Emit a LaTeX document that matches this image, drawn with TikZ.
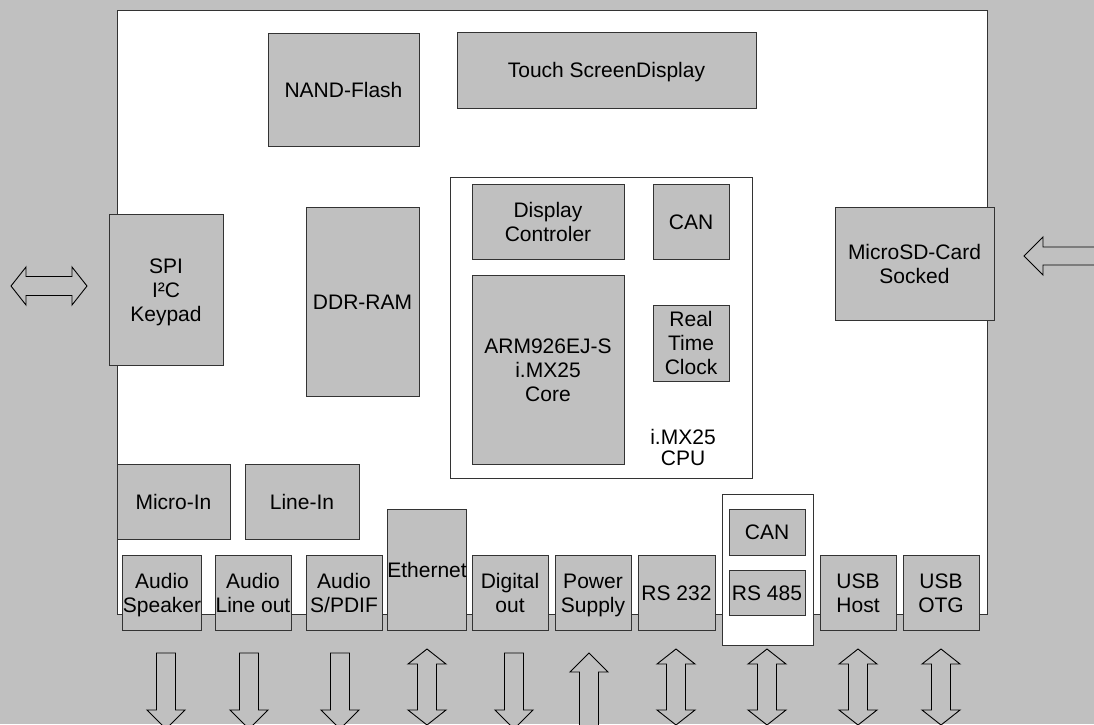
\documentclass[tikz,border=0pt]{standalone}
\usepackage{fontspec}
\setmainfont{Liberation Sans}
\definecolor{bggray}{HTML}{C0C0C0}
\definecolor{edge}{HTML}{333333}
\newcommand\lstrut{\rule[-4.5pt]{0pt}{24pt}}
\newcommand\bx[7][]{\node[box,#1,minimum width={#4-#2},minimum height={#5-#3}] (#6) at ({(#2+#4)/2},{(#3+#5)/2}) {\lstrut#7\lstrut};}
\newcommand\arrdown[1]{\draw[arr] ({#1-9.5},653) -- ({#1+9.5},653) -- ({#1+9.5},710) -- ({#1+19},710) -- (#1,729) -- ({#1-19},710) -- ({#1-9.5},710) -- cycle;}
\newcommand\arrup[1]{\draw[arr] (#1,653) -- ({#1+19},672) -- ({#1+9.5},672) -- ({#1+9.5},740) -- ({#1-9.5},740) -- ({#1-9.5},672) -- ({#1-19},672) -- cycle;}
\newcommand\arrdbl[1]{\draw[arr] (#1,649) -- ({#1+19},664) -- ({#1+9.5},664) -- ({#1+9.5},710) -- ({#1+19},710) -- (#1,725) -- ({#1-19},710) -- ({#1-9.5},710) -- ({#1-9.5},664) -- ({#1-19},664) -- cycle;}
\begin{document}
\begin{tikzpicture}[x=1pt,y=-1pt,
  box/.style={draw=edge,fill=bggray,line width=1pt,inner sep=0pt,align=center,
    font=\fontsize{21}{24}\selectfont},
  wbox/.style={draw=edge,fill=white,line width=1pt},
  arr/.style={draw=black,fill=bggray,line width=0.9pt,line join=miter}]
\useasboundingbox (0,0) rectangle (1094,724);
\clip (0,0) rectangle (1094,724);
\fill[bggray] (0,0) rectangle (1094,724);
\draw[wbox] (117,10) rectangle (987,614);
% top
\bx{268}{33}{419}{146}{nand}{NAND-Flash}
\bx{457}{32}{756}{108}{touch}{Touch ScreenDisplay}
\bx{306}{207}{419}{396}{ddr}{DDR-RAM}
\bx{109}{214}{223}{365}{spi}{SPI\\I²C\\Keypad}
\bx{835}{207}{994}{320}{sd}{MicroSD-Card\\Socked}
% CPU
\draw[wbox] (450,177) rectangle (752,478);
\bx{472}{184}{624}{259}{disp}{Display\\Controler}
\bx{653}{184}{729}{259}{can1}{CAN}
\bx{472}{275}{624}{464}{arm}{ARM926EJ-S\\i.MX25\\Core}
\bx{653}{305}{729}{381}{rtc}{Real\\Time\\Clock}
\node[align=center,inner sep=0pt,font=\fontsize{21}{21}\selectfont] (cpu) at (683,447) {i.MX25\\CPU};
% bottom
\bx{117}{464}{230}{539}{micin}{Micro-In}
\bx{245}{464}{359}{539}{linein}{Line-In}
\bx{124}{555}{200}{630}{spk}{Audio\\Speaker}
\bx{215}{555}{291}{630}{lout}{Audio\\Line out}
\bx{306}{555}{382}{630}{spdif}{Audio\\S/PDIF}
\bx{389}{509}{465}{630}{eth}{Ethernet}
\bx{472}{555}{548}{630}{dout}{Digital\\out}
\bx{555}{555}{631}{630}{pwr}{Power\\Supply}
\bx{638}{555}{715}{630}{rs232}{RS 232}
\draw[wbox] (722,494) rectangle (813,645);
\bx{729}{509}{805}{555}{can2}{CAN}
\bx{729}{570}{805}{615}{rs485}{RS 485}
\bx{820}{555}{896}{630}{usbh}{USB\\Host}
\bx{903}{555}{979}{630}{usbo}{USB\\OTG}
% arrows
\arrdown{166}
\arrdown{249}
\arrdown{340}
\arrdbl{427}
\arrdown{514}
\arrup{589}
\arrdbl{676}
\arrdbl{767}
\arrdbl{858}
\arrdbl{941}
\draw[arr] (11,286) -- (26,267) -- (26,276.5) -- (72,276.5) -- (72,267) -- (87,286) -- (72,305) -- (72,295.5) -- (26,295.5) -- (26,305) -- cycle;
\draw[arr] (1024,256) -- (1043,237) -- (1043,247) -- (1100,247) -- (1100,265) -- (1043,265) -- (1043,275) -- cycle;
\end{tikzpicture}
\end{document}
